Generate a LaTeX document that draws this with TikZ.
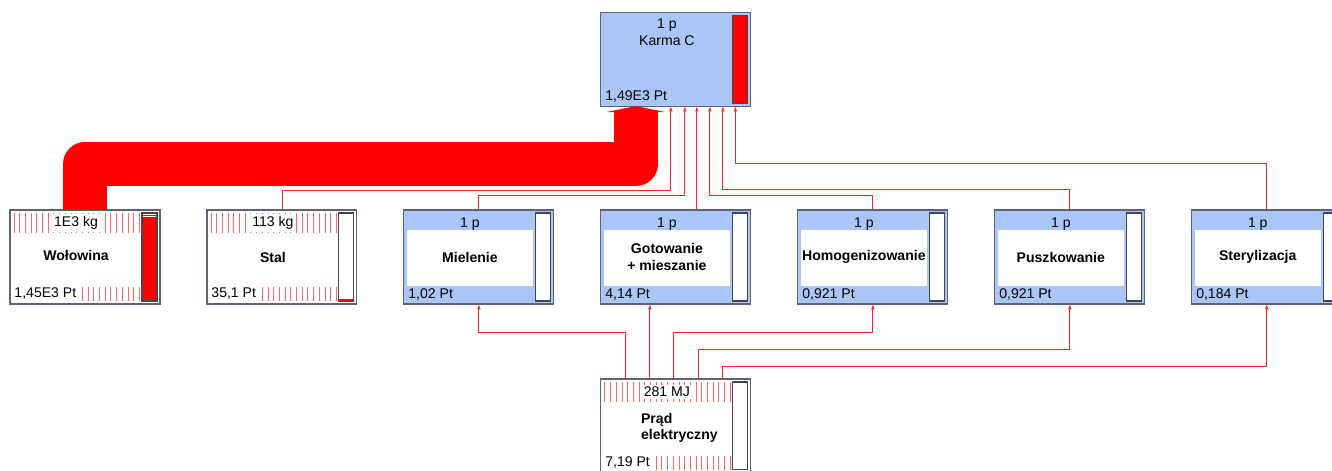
\documentclass[tikz,border=0pt]{standalone}
\usepackage{fontspec}
\setmainfont{Liberation Sans}
\usetikzlibrary{positioning,calc,arrows.meta}
\definecolor{procblue}{RGB}{170,198,246}
\definecolor{edgegray}{RGB}{95,100,115}
\definecolor{flowred}{RGB}{255,0,0}

\begin{document}
\begin{tikzpicture}[x=0.02cm, y=-0.02cm,
    node distance=0.94cm,
    font=\fontsize{8}{9.5}\selectfont,
    unit/.style={draw=edgegray, line width=0.6pt, minimum width=3cm, minimum height=1.88cm, inner sep=0pt, outer sep=0pt},
    procbox/.style={unit, fill=procblue},
    matbox/.style={unit, fill=white},
    barbox/.style={draw=edgegray!70!black, line width=0.6pt},
    hatch/.style={flowred!60, line width=0.5pt},
    title/.style={font=\fontsize{8}{9.5}\selectfont\bfseries, align=center},
    amount/.style={inner sep=1.2pt},
    flow/.style={draw=flowred!85, line width=0.5pt, -{Latex[length=3pt,width=2pt]}},
    bigflow/.style={draw=flowred, line width=0.88cm, line join=round, -{Triangle[length=0.12cm,width=1.16cm]}}]

  \clip (0,0) rectangle (1332,470);
  \useasboundingbox (0,0) rectangle (1332,470);

  % boxes
  \node[matbox] (wol) at (85,257) {};
  \node[matbox, right=of wol] (stal) {};
  \node[procbox, right=of stal] (miel) {};
  \node[procbox, right=of miel] (gotow) {};
  \node[procbox, right=of gotow] (homog) {};
  \node[procbox, right=of homog] (puszk) {};
  \node[procbox, right=of puszk] (steryl) {};
  \node[procbox, above=2.08cm of gotow] (karma) {};
  \node[matbox, below=1.5cm of gotow] (prad) {};

  % hatching of the input boxes
  \foreach \n in {wol,stal,prad} {
    \foreach \i in {0,...,22} {
      \draw[hatch] ($(\n.north west)+(4+\i*5.7,3)$) -- ++(0,20);
      \draw[hatch] ($(\n.south west)+(4+\i*5.7,-17)$) -- ++(0,14);
    }
  }

  % white panels of the processes
  \foreach \n in {miel,gotow,homog,puszk,steryl}
    \fill[white] ($(\n.north west)+(3,20)$) rectangle ($(\n.south east)+(-21,-18)$);

  % bars
  \foreach \n in {stal,miel,gotow,homog,puszk,steryl,prad}
    \draw[barbox, fill=white] ($(\n.north east)+(-18,3)$) rectangle ($(\n.south east)+(-3,-3)$);
  \fill[flowred] ($(wol.north east)+(-18,7)$) rectangle ($(wol.south east)+(-3,-3)$);
  \draw[flowred, line width=0.5pt] ($(wol.north east)+(-18,5)$) -- ++(15,0);
  \draw[barbox] ($(wol.north east)+(-18,3)$) rectangle ($(wol.south east)+(-3,-3)$);
  \fill[flowred] ($(stal.south east)+(-18,-5)$) rectangle ($(stal.south east)+(-3,-3)$);
  \draw[barbox, fill=flowred] ($(karma.north east)+(-18,3)$) rectangle ($(karma.south east)+(-3,-3)$);

  % texts
  \node at ($(karma.north west)+(66,13)$) {1 p};
  \node at ($(karma.north west)+(66,29)$) {Karma C};
  \node[amount, anchor=south west] at ($(karma.south west)+(2,-1)$) {1,49E3 Pt};

  \node[amount, fill=white] at ($(wol.north west)+(66,13)$) {1E3 kg};
  \node[title] at ($(wol.north west)+(66,45)$) {Wołowina};
  \node[amount, fill=white, anchor=south west] at ($(wol.south west)+(2,-2)$) {1,45E3 Pt};

  \node[amount, fill=white] at ($(stal.north west)+(66,13)$) {113 kg};
  \node[title] at ($(stal.north west)+(66,47)$) {Stal};
  \node[amount, fill=white, anchor=south west] at ($(stal.south west)+(2,-2)$) {35,1 Pt};

  \foreach \n/\t/\v in {miel/Mielenie/{1,02 Pt}, gotow/{Gotowanie\\+ mieszanie}/{4,14 Pt},
      homog/Homogenizowanie/{0,921 Pt}, puszk/Puszkowanie/{0,921 Pt}, steryl/Sterylizacja/{0,184 Pt}} {
    \node at ($(\n.north west)+(66,14)$) {1 p};
    \node[title] at ($(\n.north west)+(66,47)$) {\t};
    \node[amount, anchor=south west] at ($(\n.south west)+(2,-1)$) {\v};
  }

  \node[amount, fill=white] at ($(prad.north west)+(66,13)$) {281 MJ};
  \node[title, align=left, anchor=west] at ($(prad.north west)+(34,49)$) {Prąd\\elektryczny};
  \node[amount, fill=white, anchor=south west] at ($(prad.south west)+(2,-2)$) {7,19 Pt};

  % flows into Karma C
  \draw[bigflow] (wol.north) -- ++(0,-46) -| ([xshift=-0.8cm]karma.south);
  \draw[flow] (stal.north) -- ++(0,-20) -| ([xshift=-0.1cm]karma.south);
  \draw[flow] (miel.north) -- ++(0,-15) -| ([xshift=0.18cm]karma.south);
  \draw[flow] ([xshift=0.42cm]gotow.north) -- ([xshift=0.42cm]karma.south);
  \draw[flow] (homog.north) -- ++(0,-15) -| ([xshift=0.68cm]karma.south);
  \draw[flow] (puszk.north) -- ++(0,-21) -| ([xshift=0.94cm]karma.south);
  \draw[flow] (steryl.north) -- ++(0,-47) -| ([xshift=1.19cm]karma.south);

  % electricity to the processes
  \draw[flow] ([xshift=-1.01cm]prad.north) -- ++(0,-47) -| (miel.south);
  \draw[flow] ([xshift=-0.52cm]prad.north) -- ([xshift=-0.52cm]gotow.south);
  \draw[flow] ([xshift=-0.04cm]prad.north) -- ++(0,-47) -| (homog.south);
  \draw[flow] ([xshift=0.45cm]prad.north) -- ++(0,-30) -| (puszk.south);
  \draw[flow] ([xshift=0.94cm]prad.north) -- ++(0,-13) -| (steryl.south);
\end{tikzpicture}
\end{document}
